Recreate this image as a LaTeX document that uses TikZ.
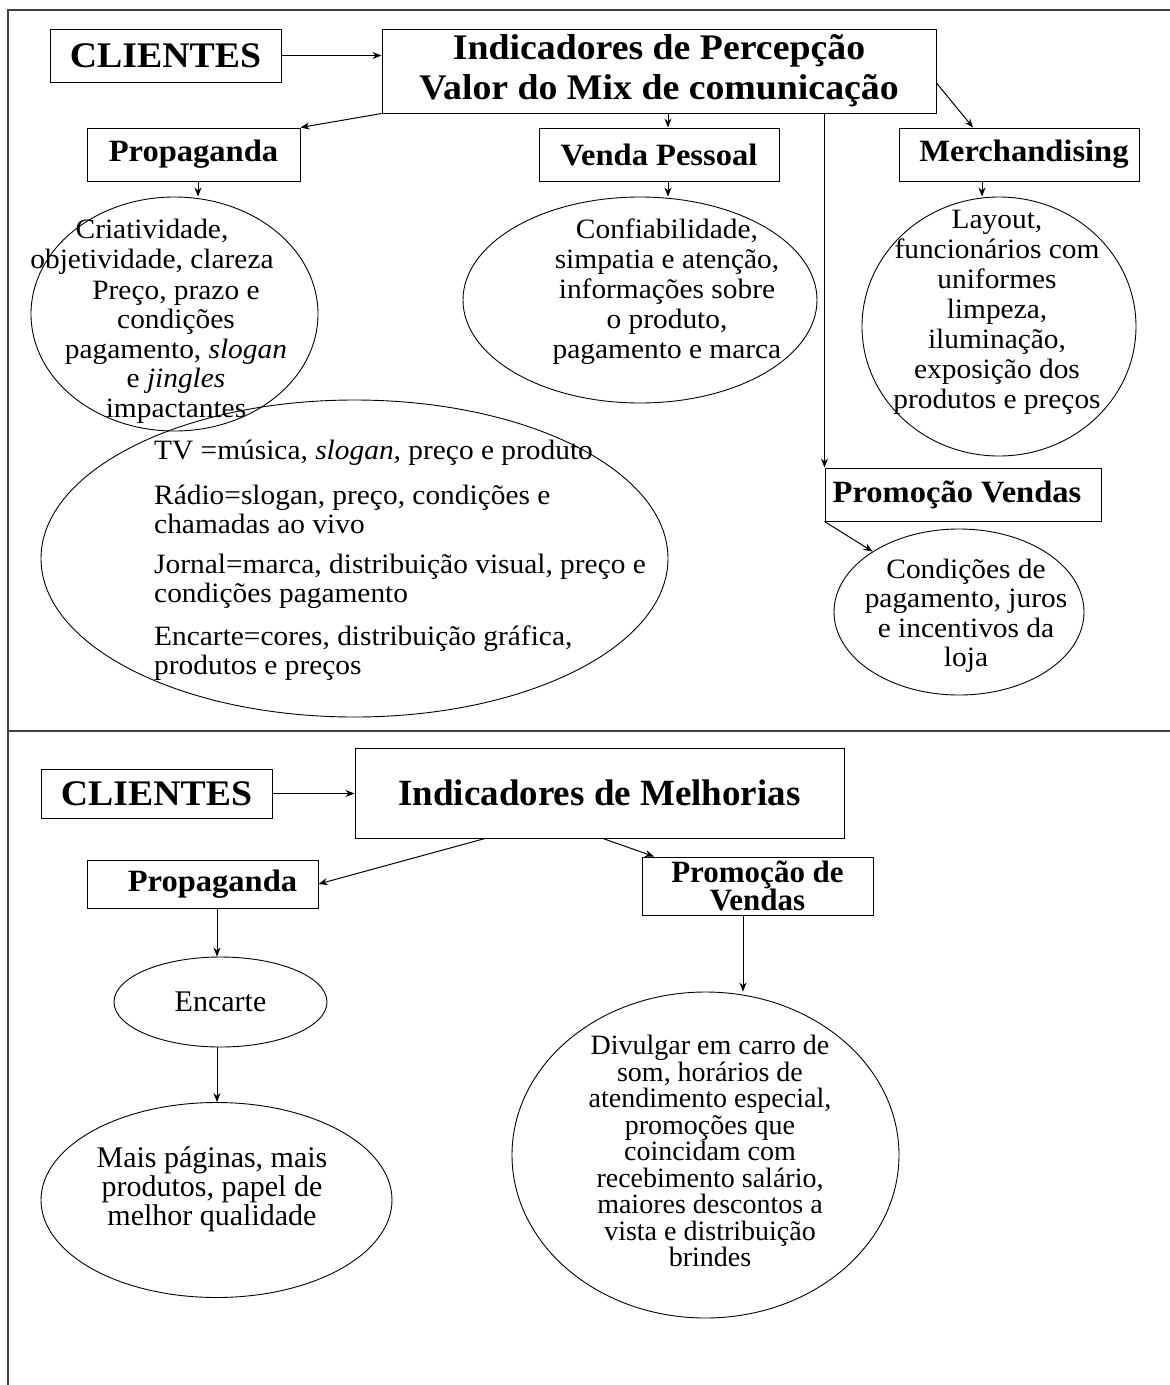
\documentclass[tikz,border=0pt]{standalone}
\usepackage{fontspec}
\setmainfont{Liberation Serif}
\newfontfamily\wide[FakeStretch=1.05]{Liberation Serif}
\usetikzlibrary{arrows.meta,shapes.geometric,calc}
\begin{document}
\begin{tikzpicture}[x=1pt,y=-1pt,
  box/.style={draw=black, line width=1pt, rectangle, inner sep=0pt},
  ell/.style={draw=black, line width=0.9pt, ellipse, inner sep=0pt},
  arr/.style={draw=black, line width=1pt, -{Stealth[length=9pt,width=7pt]}},
  frameline/.style={draw=black!75, line width=1.5pt},
  hdfont/.style={font=\wide\bfseries\fontsize{36}{40}\selectfont, align=center},
  lbfont/.style={font=\wide\bfseries\fontsize{31}{29}\selectfont, align=center},
  txt/.style={inner sep=0pt, align=center, font=\wide\fontsize{28}{29.5}\selectfont},
  txtl/.style={inner sep=0pt, align=left, anchor=west, font=\wide\fontsize{28}{29}\selectfont},
  btxt/.style={inner sep=0pt, align=center, font=\fontsize{30}{29}\selectfont},
  dtxt/.style={inner sep=0pt, align=center, font=\fontsize{28}{26.5}\selectfont}
]
\useasboundingbox (0,0) rectangle (1170,1385);
% frame
\draw[frameline] (8,1385) -- (8,10) -- (1170,10);
\draw[frameline] (8,731) -- (1170,731);

% ---------- top half ----------
\node[box, hdfont, minimum width=231pt, minimum height=53pt] (CL1) at (165.5,55.5) {CLIENTES};
\node[box, hdfont, minimum width=554pt, minimum height=84pt] (IND1) at (659,71) {Indicadores de Percepção\\Valor do Mix de comunicação};
\node[box, lbfont, minimum width=213pt, minimum height=53pt] (PROP1) at (193.5,154.5) {Propaganda};
\node[box, lbfont, minimum width=240pt, minimum height=53pt] (VEN1) at (659,154.5) {Venda Pessoal};
\node[box, lbfont, minimum width=240pt, minimum height=53pt] (MER1) at (1019,154.5) {\hspace*{10pt}Merchandising};
\node[box, lbfont, minimum width=276pt, minimum height=53pt] (PV1) at (963,494.5) {Promoção Vendas\hspace*{12pt}};

\node[ell, minimum width=287pt, minimum height=234pt] (E1) at (174.5,314) {};
\node[txt] (E1a) at (152,247) {Criatividade,\\objetividade, clareza};
\node[txt] (E1b) at (176,352) {Preço, prazo e\\condições\\pagamento, \textit{slogan}\\e \textit{jingles}\\impactantes};

\node[ell, minimum width=354pt, minimum height=206pt] (E2) at (640,300) {};
\node[txt, font=\wide\fontsize{28}{30}\selectfont] (E2t) at (667,292) {Confiabilidade,\\simpatia e atenção,\\informações sobre\\o produto,\\pagamento e marca};

\node[ell, minimum width=274pt, minimum height=259pt] (E3) at (999,326.5) {};
\node[txt, font=\wide\fontsize{28}{30}\selectfont] (E3t) at (997,312) {Layout,\\funcionários com\\uniformes\\limpeza,\\iluminação,\\exposição dos\\produtos e preços};

\node[ell, minimum width=627pt, minimum height=317pt] (E4) at (354.5,558.5) {};
\node[txtl] (E4a) at (154,453) {TV =música, \textit{slogan,} preço e produto};
\node[txtl] (E4b) at (154,509) {Rádio=slogan, preço, condições e\\chamadas ao vivo};
\node[txtl] (E4c) at (154,581.5) {Jornal=marca, distribuição visual, preço e\\condições pagamento};
\node[txtl] (E4d) at (154,653.5) {Encarte=cores, distribuição gráfica,\\produtos e preços};

\node[ell, minimum width=250pt, minimum height=166pt] (COND1) at (959,612) {};
\node[txt] (COND1t) at (966,616) {Condições de\\pagamento, juros\\e incentivos da\\loja};

% top connectors
\draw[arr] (CL1.east) -- (CL1.east -| IND1.west);
\draw[arr] (IND1.south west) -- (PROP1.north east);
\draw[arr] ([xshift=9pt]IND1.south) -- ([xshift=9pt]IND1.south |- VEN1.north);
\draw[arr] ([yshift=-12pt]IND1.east) -- ([xshift=-46pt]MER1.north);
\draw[arr] (IND1.south -| PV1.north west) -- (PV1.north west);
\draw[arr] ([xshift=4.5pt]PROP1.south) -- ([xshift=4.5pt]PROP1.south |- E1.north);
\draw[arr] ([xshift=9pt]VEN1.south) -- ([xshift=9pt]VEN1.south |- E2.north);
\draw[arr] ([xshift=-37pt]MER1.south) -- ([xshift=-37pt]MER1.south |- E3.north);
\draw[arr] (PV1.south west) -- (COND1.145);

% ---------- bottom half ----------
\node[box, hdfont, minimum width=231pt, minimum height=49pt] (CL2) at (156.5,793.5) {CLIENTES};
\node[box, font=\bfseries\fontsize{37}{40}\selectfont, minimum width=489pt, minimum height=90pt] (IND2) at (599.5,793) {Indicadores de Melhorias};
\node[box, lbfont, minimum width=231pt, minimum height=48pt] (PROP2) at (202.5,884) {\hspace*{20pt}Propaganda};
\node[box, align=center, font=\bfseries\fontsize{31}{28}\selectfont, minimum width=231pt, minimum height=58pt] (PV2) at (757.5,886) {Promoção de\\Vendas};

\node[ell, btxt, minimum width=213pt, minimum height=90pt] (ENC) at (220.5,1002) {Encarte};
\node[ell, minimum width=351pt, minimum height=195pt] (MAIS) at (216.5,1200) {};
\node[btxt] (MAISt) at (212,1189) {Mais páginas, mais\\produtos, papel de\\melhor qualidade};
\node[ell, minimum width=387pt, minimum height=326pt] (DIV) at (705.5,1155) {};
\node[dtxt] (DIVt) at (710,1151) {Divulgar em carro de\\som, horários de\\atendimento especial,\\promoções que\\coincidam com\\recebimento salário,\\maiores descontos a\\vista e distribuição\\brindes};

% bottom connectors
\draw[arr] (CL2.east) -- (CL2.east -| IND2.west);
\draw[arr] ([xshift=-114.5pt]IND2.south) -- (PROP2.east);
\draw[arr] ([xshift=3.5pt]IND2.south) -- ([xshift=-103.5pt]PV2.north);
\draw[arr] ([xshift=14.5pt]PROP2.south) -- ([xshift=14.5pt]PROP2.south |- ENC.north);
\draw[arr] ([xshift=-3.5pt]ENC.south) -- ([xshift=-3.5pt]ENC.south |- MAIS.north);
\draw[arr] ([xshift=-14.5pt]PV2.south) -- ([xshift=-14.5pt]PV2.south |- DIV.north);
\end{tikzpicture}
\end{document}
